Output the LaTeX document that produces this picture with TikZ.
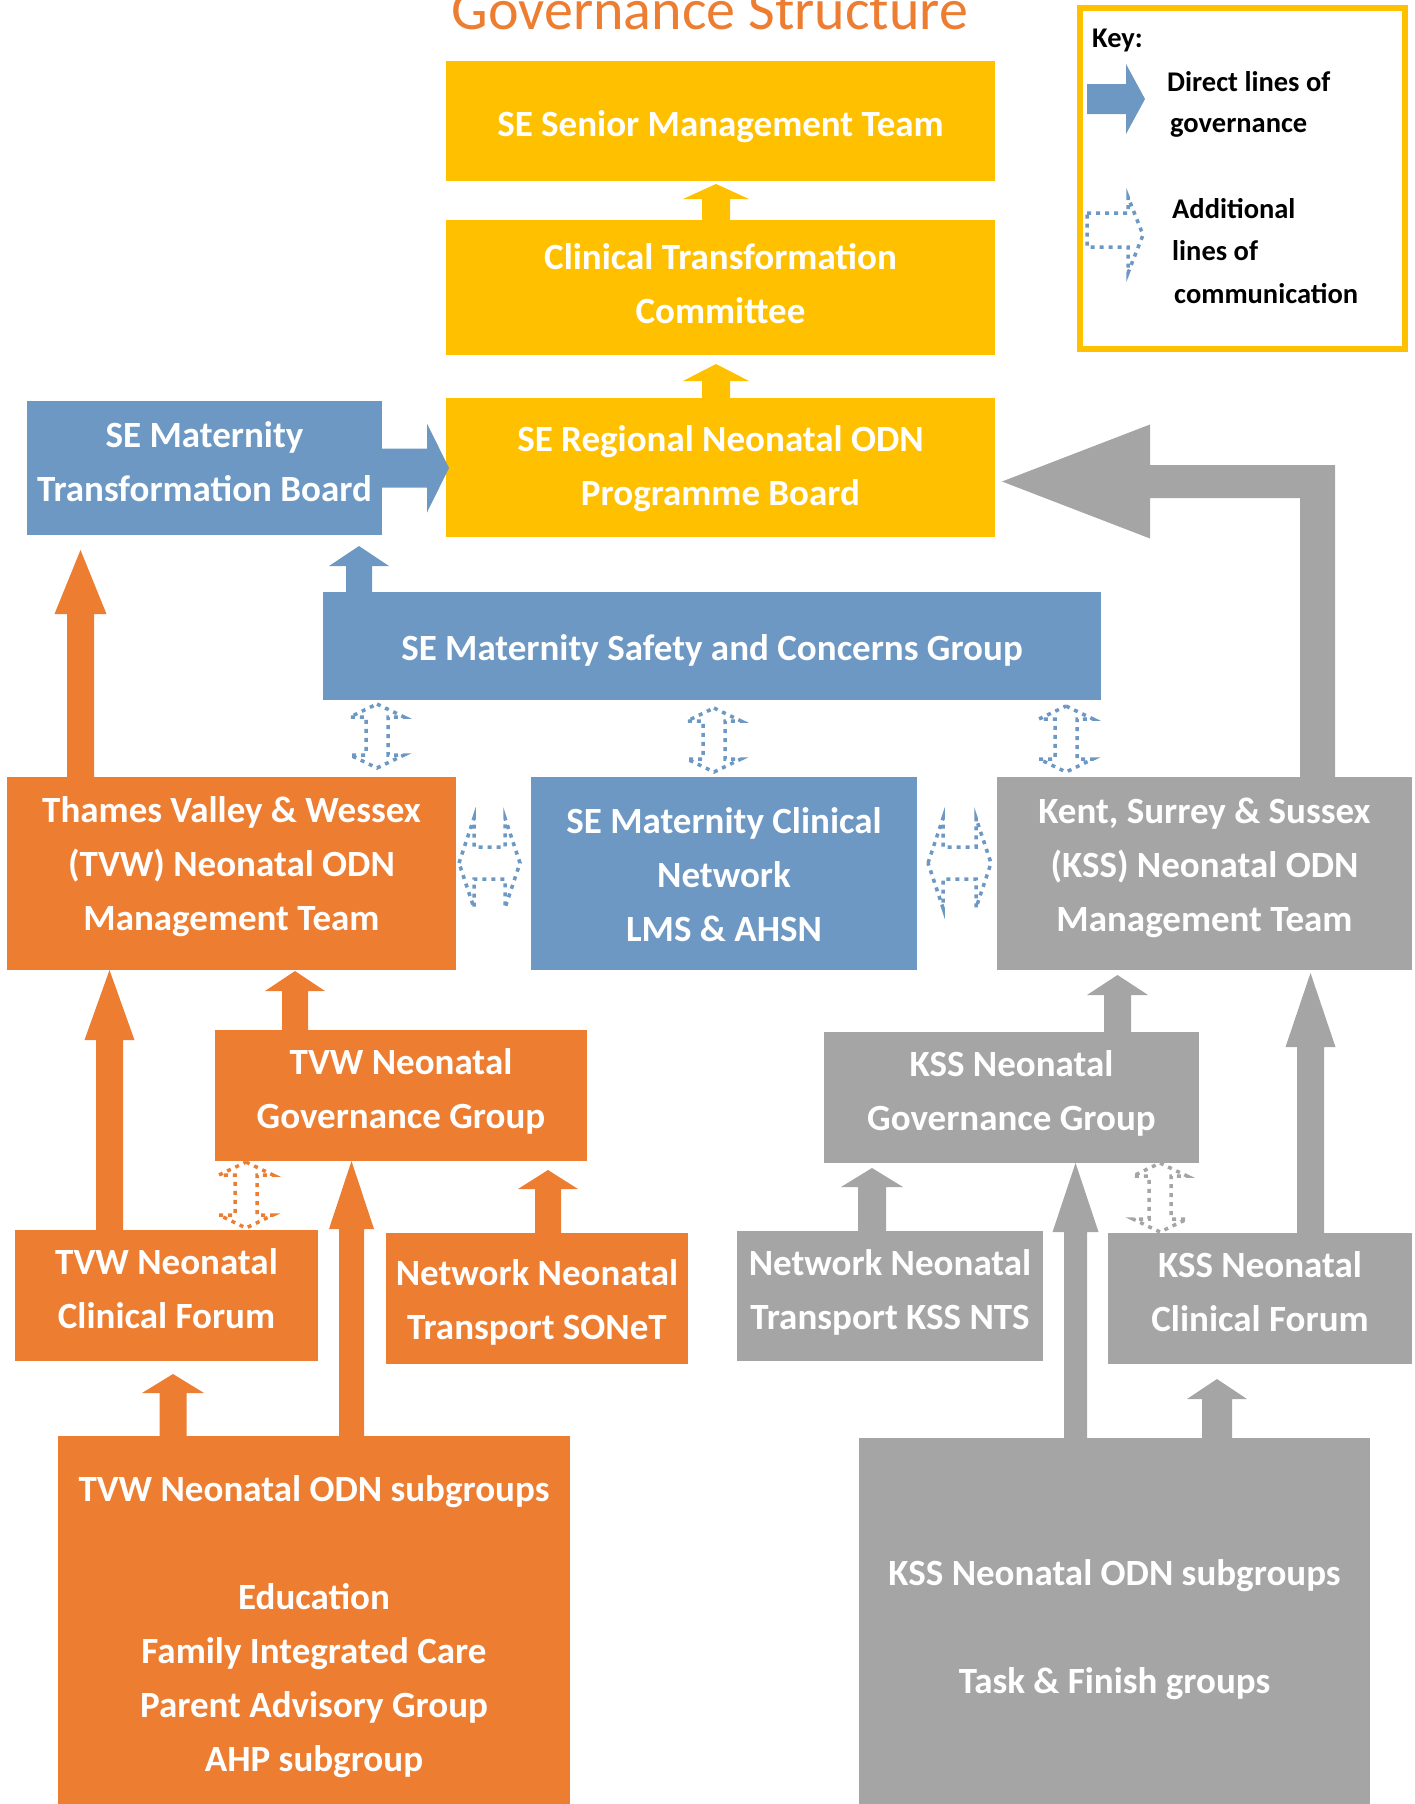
\documentclass[tikz,border=0pt]{standalone}
\usepackage{fontspec}
\setmainfont{Carlito}
\usetikzlibrary{calc}
\definecolor{yel}{HTML}{FFC000}
\definecolor{blu}{HTML}{6C98C3}
\definecolor{ora}{HTML}{ED7D31}
\definecolor{gry}{HTML}{A5A5A5}
% text offset helpers: taller first line (moves text down) / deeper last line (moves text up)
\newcommand{\tdn}[1]{\rule{0pt}{#1pt}}
\newcommand{\tup}[1]{\rule[-#1pt]{0pt}{#1pt}}
% up block arrow: #1 colour, #2 start (bottom), #3 tip, #4 shaft half width, #5 head half width, #6 head length
\newcommand{\blkup}[6]{\fill[#1] let \p1=(#2), \p2=(#3) in
  (\x1-#4pt,\y1) -- (\x1-#4pt,\y2-#6pt) -- (\x1-#5pt,\y2-#6pt) -- (\x1,\y2)
  -- (\x1+#5pt,\y2-#6pt) -- (\x1+#4pt,\y2-#6pt) -- (\x1+#4pt,\y1) -- cycle;}
% right block arrow
\newcommand{\blkright}[6]{\fill[#1] let \p1=(#2), \p2=(#3) in
  (\x1,\y1+#4pt) -- (\x2-#6pt,\y1+#4pt) -- (\x2-#6pt,\y1+#5pt) -- (\x2,\y1)
  -- (\x2-#6pt,\y1-#5pt) -- (\x2-#6pt,\y1-#4pt) -- (\x1,\y1-#4pt) -- cycle;}
% elbow arrow: up then left
\newcommand{\blkelbow}[7]{\fill[#1] let \p1=(#2), \p2=(#3) in
  (\x1-#4pt,\y1) -- (\x1-#4pt,\y2-#5pt) -- (\x2+#7pt,\y2-#5pt) -- (\x2+#7pt,\y2-#6pt)
  -- (\x2,\y2) -- (\x2+#7pt,\y2+#6pt) -- (\x2+#7pt,\y2+#5pt) -- (\x1+#4pt,\y2+#5pt)
  -- (\x1+#4pt,\y1) -- cycle;}
% dotted up-down arrow
\newcommand{\dudarrow}[3]{\draw[dots,#1] let \p1=(#2), \p2=(#3) in
  (\x1,\y1) -- (\x1+27pt,\y1-13pt) -- (\x1+11pt,\y1-13pt) -- (\x1+11pt,\y2+13pt)
  -- (\x1+27pt,\y2+13pt) -- (\x1,\y2) -- (\x1-27pt,\y2+13pt) -- (\x1-11pt,\y2+13pt)
  -- (\x1-11pt,\y1-13pt) -- (\x1-27pt,\y1-13pt) -- cycle;}
% dotted left-right arrow
\newcommand{\dlrarrow}[3]{\draw[dots,#1] let \p1=(#2), \p2=(#3) in
  (\x1,\y1) -- (\x1+15pt,\y1+45pt) -- (\x1+15pt,\y1+16pt) -- (\x2-15pt,\y1+16pt)
  -- (\x2-15pt,\y1+45pt) -- (\x2,\y1) -- (\x2-15pt,\y1-45pt) -- (\x2-15pt,\y1-16pt)
  -- (\x1+15pt,\y1-16pt) -- (\x1+15pt,\y1-45pt) -- cycle;}
\begin{document}
\begin{tikzpicture}[x=1pt,y=-1pt,
  box/.style={rectangle, inner sep=0pt, outer sep=0pt, anchor=north west, text=white,
    align=center, font=\bfseries\fontsize{37}{54}\selectfont},
  keytxt/.style={anchor=base west, inner sep=0pt, font=\bfseries\fontsize{28.5}{34}\selectfont},
  dots/.style={line width=3.5pt, dash pattern=on 4pt off 5pt}]
\useasboundingbox (0,0) rectangle (1415,1804);

% title
\node[anchor=base, inner sep=0pt, text=ora, font=\fontsize{58}{70}\selectfont] (title) at (710,29) {Governance Structure};

% key
\node[draw=yel, line width=6pt, fill=white, minimum width=325pt, minimum height=341pt,
  inner sep=0pt, outer sep=0pt, anchor=north west] (key) at (1080,8) {};
\node[keytxt] (keyk) at (1092,47) {Key:};
\node[keytxt] (keyd1) at (1167,91) {Direct lines of};
\node[keytxt] (keyd2) at (1170,132) {governance};
\node[keytxt] (keya1) at (1172,218) {Additional};
\node[keytxt] (keya2) at (1172,260) {lines of};
\node[keytxt] (keya3) at (1174,303) {communication};
\fill[blu] (1087,84) -- (1126,84) -- (1126,64) -- (1145,99) -- (1126,134) -- (1126,114) -- (1087,114) -- cycle;
\draw[dots,blu] (1087,213) -- (1128,213) -- (1128,197) -- (1143,235) -- (1128,273) -- (1128,247) -- (1087,247) -- cycle;

% boxes
\node[box, fill=yel, minimum width=549pt, minimum height=120pt] (senior) at (446,61)
  {\strut\tdn{47.8}SE Senior Management Team};
\node[box, fill=yel, minimum width=549pt, minimum height=135pt] (clinical) at (446,220)
  {\strut Clinical Transformation\\\strut Committee\tup{20.2}};
\node[box, fill=yel, minimum width=549pt, minimum height=139pt] (programme) at (446,398)
  {\strut SE Regional Neonatal ODN\\\strut Programme Board};
\node[box, fill=blu, minimum width=355pt, minimum height=134pt] (transf) at (27,401)
  {\strut SE Maternity\\\strut Transformation Board\tup{25.4}};
\node[box, fill=blu, minimum width=778pt, minimum height=108pt] (safety) at (323,592)
  {\strut\tdn{44.8}SE Maternity Safety and Concerns Group};
\node[box, fill=ora, minimum width=449pt, minimum height=193pt] (tvwm) at (7,777)
  {\strut Thames Valley \& Wessex\\\strut (TVW) Neonatal ODN\\\strut Management Team\tup{31.2}};
\node[box, fill=blu, minimum width=386pt, minimum height=193pt] (network) at (531,777)
  {\strut\tdn{43.8}SE Maternity Clinical\\\strut Network\\\strut LMS \& AHSN};
\node[box, fill=gry, minimum width=415pt, minimum height=193pt] (kssm) at (997,777)
  {\strut Kent, Surrey \& Sussex\\\strut (KSS) Neonatal ODN\\\strut Management Team\tup{30.2}};
\node[box, fill=ora, minimum width=372pt, minimum height=131pt] (tvwg) at (215,1030)
  {\strut TVW Neonatal\\\strut Governance Group\tup{25.4}};
\node[box, fill=gry, minimum width=375pt, minimum height=131pt] (kssg) at (824,1032)
  {\strut KSS Neonatal\\\strut Governance Group\tup{25.4}};
\node[box, fill=ora, minimum width=303pt, minimum height=131pt] (tvwf) at (15,1230)
  {\strut TVW Neonatal\\\strut Clinical Forum\tup{25.4}};
\node[box, fill=ora, minimum width=302pt, minimum height=131pt] (sonet) at (386,1233)
  {\strut\tdn{44.8}Network Neonatal\\\strut Transport SONeT};
\node[box, fill=gry, minimum width=306pt, minimum height=130pt] (ntskss) at (737,1231)
  {\strut Network Neonatal\\\strut Transport KSS NTS\tup{25.4}};
\node[box, fill=gry, minimum width=304pt, minimum height=131pt] (kssf) at (1108,1233)
  {\strut KSS Neonatal\\\strut Clinical Forum\tup{25.4}};
\node[box, fill=ora, minimum width=512pt, minimum height=368pt] (tvwsub) at (58,1436)
  {\strut\tdn{49.2}TVW Neonatal ODN subgroups\\\strut\\\strut Education\\\strut Family Integrated Care\\\strut Parent Advisory Group\\\strut AHP subgroup};
\node[box, fill=gry, minimum width=511pt, minimum height=366pt] (ksssub) at (859,1438)
  {\strut\tdn{53.8}KSS Neonatal ODN subgroups\\\strut\\\strut Task \& Finish groups};

% direct lines of governance
\blkup{yel}{[xshift=-4.5pt]clinical.north}{[yshift=-3pt]senior.south}{14}{33}{15}
\blkup{yel}{[xshift=-4.5pt]programme.north}{[yshift=-9pt]clinical.south}{14}{33}{17}
\blkright{blu}{transf.east}{[xshift=3pt]programme.west}{19.5}{44.5}{22}
\blkup{blu}{[xshift=-353pt]safety.north}{[yshift=-11pt]transf.south}{13}{30}{20}
\blkup{ora}{[xshift=-151pt]tvwm.north}{[yshift=-15pt]transf.south}{13.5}{26}{64}
\blkelbow{gry}{[xshift=113pt]kssm.north}{[xshift=7pt,yshift=-14pt]programme.east}{17.5}{16.5}{57}{148}
\blkup{ora}{[xshift=-106pt]tvwg.north}{[yshift=-1pt]tvwm.south}{13}{30}{20}
\blkup{ora}{[xshift=-57pt]tvwf.north}{tvwm.south}{13.5}{25}{70}
\blkup{ora}{[xshift=37.5pt]tvwsub.north}{tvwg.south}{12.5}{22.5}{68}
\blkup{ora}{[xshift=11pt]sonet.north}{[yshift=-9pt]tvwg.south}{13}{30}{19}
\blkup{ora}{[xshift=-141pt]tvwsub.north}{[yshift=-13pt]tvwf.south}{13.5}{31}{19}
\blkup{gry}{[xshift=106pt]kssg.north}{[yshift=-5pt]kssm.south}{13.5}{30.5}{20}
\blkup{gry}{[xshift=50.5pt]kssf.north}{[yshift=-3pt]kssm.south}{13.5}{25}{74}
\blkup{gry}{[xshift=-18pt]ntskss.north}{[yshift=-5pt]kssg.south}{14}{31}{19}
\blkup{gry}{[xshift=-39pt]ksssub.north}{kssg.south}{11.5}{23}{69}
\blkup{gry}{[xshift=102.5pt]ksssub.north}{[yshift=-15pt]kssf.south}{15}{30}{20}

% additional lines of communication
\dudarrow{blu}{[xshift=-335pt,yshift=-4pt]safety.south}{[yshift=9pt]tvwm.north}
\dudarrow{blu}{[xshift=2pt,yshift=-8pt]safety.south}{[yshift=5pt]network.north}
\dudarrow{blu}{[xshift=354pt,yshift=-6pt]safety.south}{[yshift=5pt]kssm.north}
\dudarrow{ora}{[xshift=-155pt,yshift=-1pt]tvwg.south}{[yshift=2pt]tvwf.north}
\dudarrow{gry}{[xshift=148.5pt]kssg.south}{[yshift=1pt]kssf.north}
\dlrarrow{blu}{[xshift=3pt,yshift=10.5pt]tvwm.east}{[xshift=-11pt]network.west}
\dlrarrow{blu}{[xshift=11pt,yshift=10.5pt]network.east}{[xshift=-6pt]kssm.west}
\end{tikzpicture}
\end{document}
